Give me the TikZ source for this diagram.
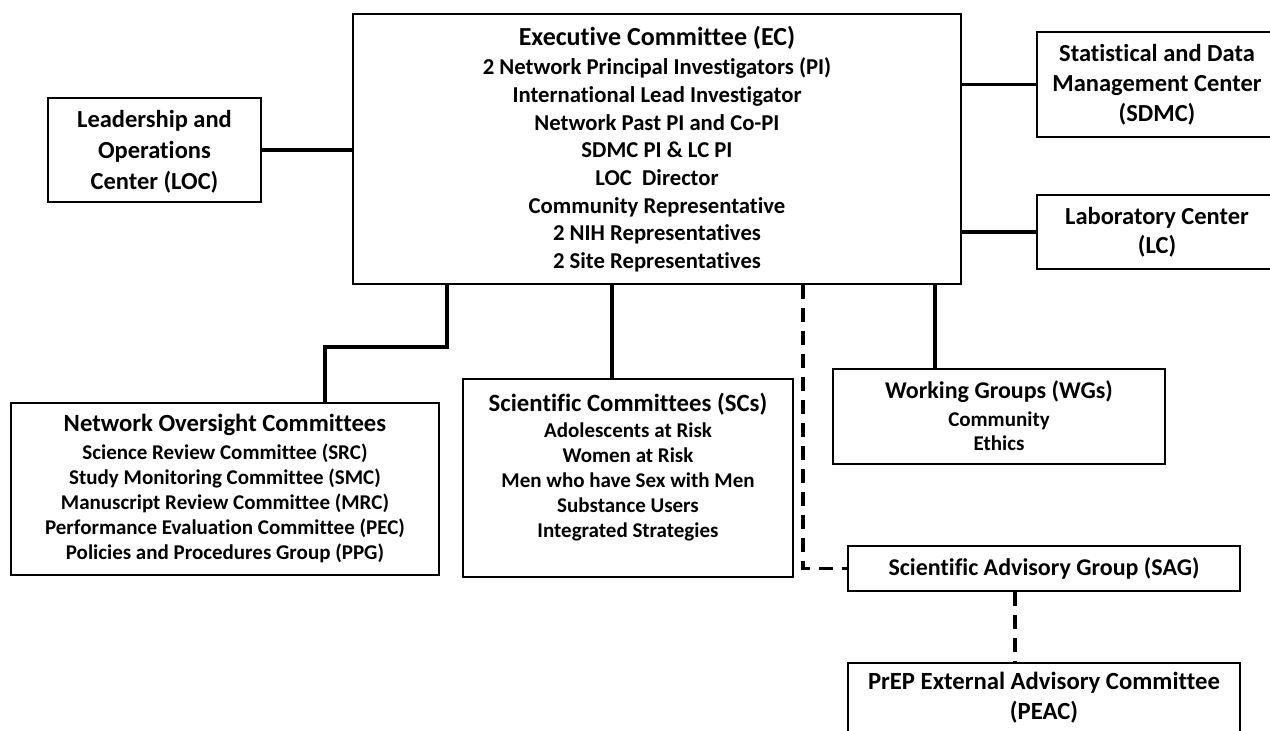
\documentclass[tikz,border=0pt]{standalone}
\usepackage{fontspec}
\setmainfont{Carlito}[Ligatures=NoCommon]
\begin{document}
\begin{tikzpicture}[x=1pt,y=-1pt,
  box/.style={draw=black,line width=2.6pt,rectangle,inner sep=0pt,fill=none},
  txt/.style={inner sep=0pt,align=center,font=\bfseries},
  conn/.style={line width=3.2pt,line cap=butt},
  dconn/.style={line width=3.2pt,dash pattern=on 14pt off 9pt}]
\useasboundingbox[fill=white] (0,0) rectangle (1270,731);
% boxes
\node[box,minimum width=608pt,minimum height=270pt] (ec) at (657,149) {};
\node[box,minimum width=213pt,minimum height=104pt] (loc) at (154.5,150) {};
\node[box,minimum width=240pt,minimum height=105pt] (sdmc) at (1157,84.5) {};
\node[box,minimum width=240pt,minimum height=74pt] (lc) at (1157,232) {};
\node[box,minimum width=428pt,minimum height=172pt] (noc) at (225,489) {};
\node[box,minimum width=330pt,minimum height=198pt] (sc) at (628,478) {};
\node[box,minimum width=332pt,minimum height=95pt] (wg) at (999,416.5) {};
\node[box,minimum width=392pt,minimum height=45pt] (sag) at (1044,568.5) {};
\node[box,minimum width=392pt,minimum height=100pt] (peac) at (1044,713) {};
% texts
\node[txt,font=\bfseries\fontsize{26}{30}\selectfont] (ect) at (657,38) {Executive Committee (EC)};
\node[txt,font=\bfseries\fontsize{22.7}{27.7}\selectfont] (eci) at (657,165) {2 Network Principal Investigators (PI)\\International Lead Investigator\\Network Past PI and Co-PI\\SDMC PI \& LC PI\\LOC\ \ Director\\Community Representative\\2 NIH Representatives\\2 Site Representatives};
\node[txt,font=\bfseries\fontsize{24.5}{31}\selectfont] (loct) at (154.5,151.5) {Leadership and\\Operations\\Center (LOC)};
\node[txt,font=\bfseries\fontsize{24.5}{30}\selectfont] (sdmct) at (1157,85) {Statistical and Data\\Management Center\\(SDMC)};
\node[txt,font=\bfseries\fontsize{24.5}{29}\selectfont] (lct) at (1157,232.5) {Laboratory Center\\(LC)};
\node[txt,font=\bfseries\fontsize{24.7}{29}\selectfont] (noct) at (225,425) {Network Oversight Committees};
\node[txt,font=\bfseries\fontsize{21}{25}\selectfont] (noci) at (225,503) {Science Review Committee (SRC)\\Study Monitoring Committee (SMC)\\Manuscript Review Committee (MRC)\\Performance Evaluation Committee (PEC)\\Policies and Procedures Group (PPG)};
\node[txt,font=\bfseries\fontsize{24.8}{29}\selectfont] (sct) at (628,404) {Scientific Committees (SCs)};
\node[txt,font=\bfseries\fontsize{21}{25}\selectfont] (sci) at (628,482) {Adolescents at Risk\\Women at Risk\\Men who have Sex with Men\\Substance Users\\Integrated Strategies};
\node[txt,font=\bfseries\fontsize{24}{29}\selectfont] (wgt) at (999,392) {Working Groups (WGs)};
\node[txt,font=\bfseries\fontsize{21}{24.5}\selectfont] (wgi) at (999,431) {Community\\Ethics};
\node[txt,font=\bfseries\fontsize{24}{29}\selectfont] (sagt) at (1044,568) {Scientific Advisory Group (SAG)};
\node[txt,font=\bfseries\fontsize{24.7}{30}\selectfont] (peact) at (1044,698) {PrEP External Advisory Committee\\(PEAC)};
% connector helper coordinates
\coordinate (nocj) at (447,347);
\coordinate (nocx) at (325,403);
\coordinate (scx) at (612,379);
\coordinate (wgx) at (935,369);
\coordinate (sagc) at (803,568.5);
\coordinate (peacx) at (1015,663);
% connectors
\draw[conn] (loc.east) -- (loc.east -| ec.west);
\draw[conn] (sdmc.west -| ec.east) -- (sdmc.west);
\draw[conn] (lc.west -| ec.east) -- (lc.west);
\draw[conn] (nocj |- ec.south) -- (nocj) -| (nocx);
\draw[conn] (scx |- ec.south) -- (scx);
\draw[conn] (wgx |- ec.south) -- (wgx);
\draw[dconn] (sagc |- ec.south) -- (sagc) -- (sag.west);
\draw[dconn] (peacx |- sag.south) -- (peacx);
\end{tikzpicture}
\end{document}
